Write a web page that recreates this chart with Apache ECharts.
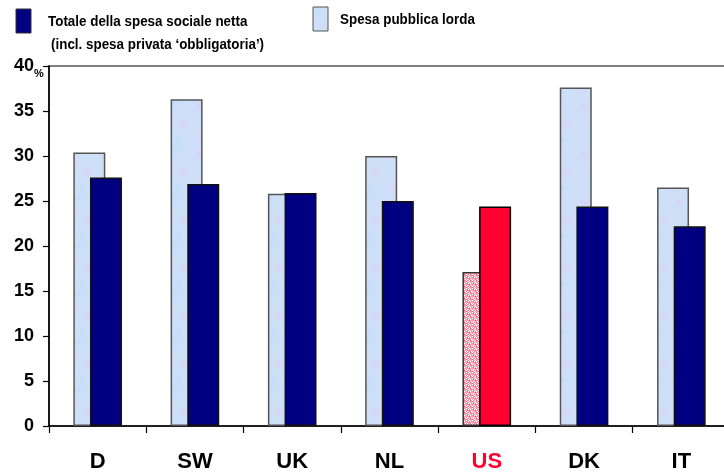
<!DOCTYPE html>
<html>
<head>
<meta charset="utf-8">
<script src="https://cdn.jsdelivr.net/npm/echarts@6/dist/echarts.min.js"></script>
<style>
  html, body { margin: 0; padding: 0; background: #fff; overflow: hidden; }
  #chart { width: 730px; height: 475px; }
</style>
</head>
<body>
<div id="chart"></div>
<script>
// Spesa sociale in % del PIL
const countries = ['D', 'SW', 'UK', 'NL', 'US', 'DK', 'IT'];
const spesaPubblicaLorda = [30.4, 36.3, 25.8, 30.0, 17.1, 37.6, 26.5];
const spesaSocialeNetta = [27.6, 26.9, 25.9, 25.0, 24.4, 24.4, 22.2];
const yTicks = [0, 5, 10, 15, 20, 25, 30, 35, 40];
const highlighted = 'US';

const nameNetta = 'Totale della spesa sociale netta';
const noteNetta = '(incl. spesa privata \u2018obbligatoria\u2019)';
const nameLorda = 'Spesa pubblica lorda';
const FONT = 'Arial, "Liberation Sans", sans-serif';
const NAVY = '#000080';

// Soft mottled light-blue fill
function mottledTexture() {
  const c = document.createElement('canvas');
  c.width = 48; c.height = 48;
  const g = c.getContext('2d');
  g.fillStyle = '#cde0f8';
  g.fillRect(0, 0, 48, 48);
  const spots = [[8, 10, '#d8d2f5'], [30, 6, '#c1dbfa'], [40, 28, '#dbd3f4'],
                 [18, 34, '#bfdaf9'], [6, 42, '#d6d6f6'], [34, 44, '#c4ddfb'],
                 [24, 20, '#d9d4f5']];
  spots.forEach(([x, y, col]) => {
    const r = g.createRadialGradient(x, y, 0, x, y, 10);
    r.addColorStop(0, col);
    r.addColorStop(1, 'rgba(205,224,248,0)');
    g.fillStyle = r;
    g.beginPath(); g.arc(x, y, 10, 0, Math.PI * 2); g.fill();
  });
  return c;
}

// Fine pink/white weave fill
function pinkTexture() {
  const c = document.createElement('canvas');
  c.width = 6; c.height = 6;
  const g = c.getContext('2d');
  g.fillStyle = '#f5a0b0';
  g.fillRect(0, 0, 6, 6);
  g.fillStyle = '#ffffff';
  [[1, 0], [4, 0], [0, 1], [2, 1], [3, 3], [5, 3], [1, 4], [4, 4], [0, 5]].forEach(([x, y]) => g.fillRect(x, y, 1, 1));
  g.fillStyle = '#e25a74';
  [[1, 2], [4, 5], [5, 1], [2, 4]].forEach(([x, y]) => g.fillRect(x, y, 1, 1));
  return c;
}

const lordaFill = { image: mottledTexture(), repeat: 'repeat' };
const usFill = { image: pinkTexture(), repeat: 'repeat' };

const lordaData = spesaPubblicaLorda.map((v, i) => countries[i] === highlighted
  ? { value: v, itemStyle: { color: usFill, borderColor: '#333' } }
  : v);
const nettaData = spesaSocialeNetta.map((v, i) => countries[i] === highlighted
  ? { value: v, itemStyle: { color: '#ff0030', borderColor: '#000' } }
  : v);

// Legend text is set in a slightly condensed bold face
function legendText(x, y, text) {
  return {
    type: 'text', x: x, y: y, scaleX: 0.865,
    style: { text: text, font: 'bold 15.5px ' + FONT, fill: '#000', align: 'left', verticalAlign: 'middle' }
  };
}

const chart = echarts.init(document.getElementById('chart'), null, { renderer: 'canvas' });

chart.setOption({
  animation: false,
  backgroundColor: '#fff',
  textStyle: { fontFamily: FONT },
  graphic: [
    { type: 'rect', shape: { x: 16, y: 9, width: 15, height: 24 },
      style: { fill: NAVY, stroke: '#333', lineWidth: 1 } },
    legendText(48, 22, nameNetta),
    legendText(51, 45, noteNetta),
    { type: 'rect', shape: { x: 313, y: 7, width: 15, height: 24 },
      style: { fill: lordaFill, stroke: '#555', lineWidth: 1 } },
    legendText(340, 20, nameLorda),
    { type: 'text', left: 34, top: 68,
      style: { text: '%', font: 'bold 11px ' + FONT, fill: '#000' } }
  ],
  grid: { left: 49, right: 0, top: 66, bottom: 49, show: true, borderColor: '#000', borderWidth: 1.2 },
  xAxis: {
    type: 'category',
    data: countries,
    axisLine: { lineStyle: { color: '#000', width: 1.5 } },
    axisTick: { show: true, length: 7, lineStyle: { color: '#000', width: 1.2 } },
    axisLabel: {
      margin: 25,
      fontFamily: FONT, fontWeight: 'bold', fontSize: 22,
      color: (val) => val === highlighted ? '#ff0030' : '#000'
    }
  },
  yAxis: {
    type: 'value',
    min: yTicks[0], max: yTicks[yTicks.length - 1], interval: yTicks[1] - yTicks[0],
    splitLine: { show: false },
    axisLine: { show: true, lineStyle: { color: '#000', width: 1.5 } },
    axisTick: { show: true, length: 6, lineStyle: { color: '#000', width: 1.2 } },
    axisLabel: { margin: 15, fontFamily: FONT, fontWeight: 'bold', fontSize: 18, color: '#000' }
  },
  series: [
    {
      name: nameLorda,
      type: 'bar',
      data: lordaData,
      barWidth: 32,
      barGap: '-48%',
      itemStyle: { color: lordaFill, borderColor: '#555', borderWidth: 1.5 }
    },
    {
      name: nameNetta,
      type: 'bar',
      data: nettaData,
      barWidth: 32,
      itemStyle: { color: NAVY, borderColor: '#111', borderWidth: 1.5 }
    }
  ]
});
</script>
</body>
</html>
